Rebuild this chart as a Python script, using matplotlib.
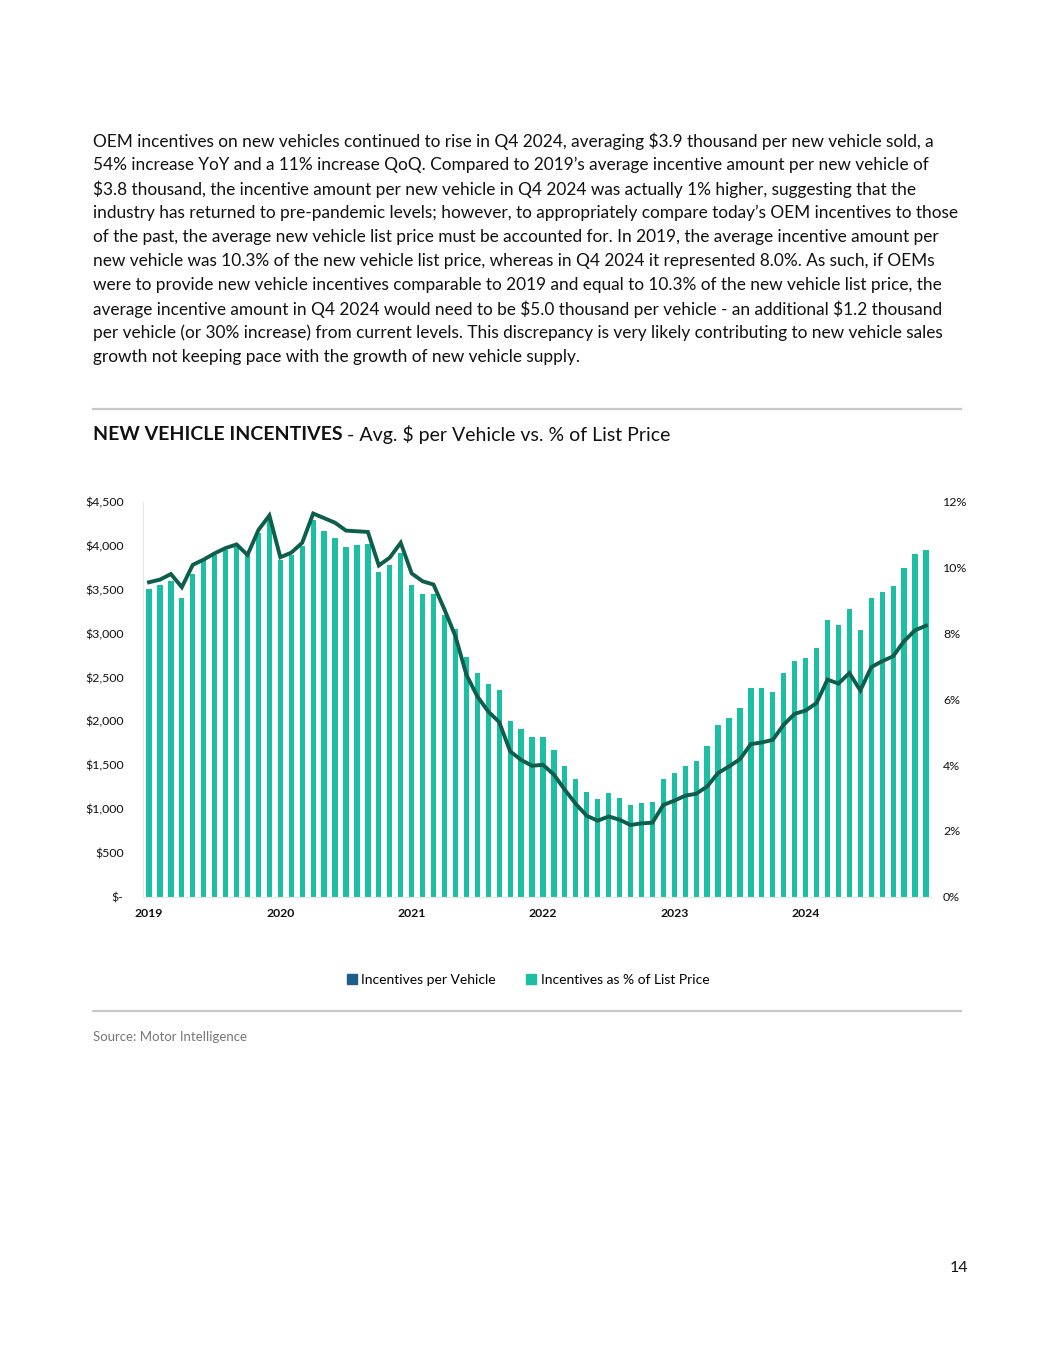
import numpy as np
import matplotlib
matplotlib.use("Agg")
import matplotlib.pyplot as plt
from matplotlib.ticker import FuncFormatter, FixedLocator
from matplotlib.lines import Line2D

plt.rcParams["font.family"] = ["Lato", "DejaVu Sans"]
plt.rcParams["text.parse_math"] = False

# ─── data (monthly, Jan 2019 .. Dec 2024) ─────────────────────────────────────
years = ["2019", "2020", "2021", "2022", "2023", "2024"]

# average incentive $ per new vehicle (bars, left axis)
incentive_usd = [
    3510, 3553, 3599, 3404, 3679, 3835, 3892, 3953, 3991, 3934, 4151, 4290,
    3838, 3899, 3998, 4295, 4170, 4086, 3991, 4014, 4025, 3701, 3777, 3922,
    3557, 3454, 3454, 3206, 3054, 2734, 2551, 2426, 2357, 2007, 1912, 1820,
    1820, 1672, 1485, 1337, 1192, 1116, 1180, 1120, 1043, 1066, 1081, 1340,
    1405, 1489, 1550, 1717, 1954, 2041, 2155, 2376, 2376, 2330, 2555, 2688,
    2719, 2833, 3157, 3092, 3275, 3046, 3404, 3473, 3541, 3751, 3903, 3953,
]

# incentives as % of list price (line, right axis)
incentive_pct = [
    9.56, 9.64, 9.81, 9.41, 10.09, 10.25, 10.44, 10.60, 10.71, 10.39, 11.15, 11.59,
    10.32, 10.46, 10.76, 11.65, 11.51, 11.37, 11.13, 11.11, 11.09, 10.07, 10.31, 10.76,
    9.83, 9.59, 9.49, 8.73, 7.92, 6.75, 6.09, 5.63, 5.31, 4.42, 4.16, 3.98,
    4.01, 3.71, 3.25, 2.82, 2.46, 2.31, 2.44, 2.34, 2.18, 2.23, 2.25, 2.79,
    2.92, 3.07, 3.13, 3.35, 3.76, 3.96, 4.18, 4.64, 4.69, 4.77, 5.23, 5.56,
    5.66, 5.89, 6.60, 6.48, 6.80, 6.27, 6.98, 7.16, 7.31, 7.77, 8.10, 8.24,
]

usd_ticks = [0, 500, 1000, 1500, 2000, 2500, 3000, 3500, 4000, 4500]
pct_ticks = [0, 2, 4, 6, 8, 10, 12]

paragraph = [
    "OEM incentives on new vehicles continued to rise in Q4 2024, averaging $3.9 thousand per new vehicle sold, a",
    "54% increase YoY and a 11% increase QoQ. Compared to 2019\u2019s average incentive amount per new vehicle of",
    "$3.8 thousand, the incentive amount per new vehicle in Q4 2024 was actually 1% higher, suggesting that the",
    "industry has returned to pre-pandemic levels; however, to appropriately compare today\u2019s OEM incentives to those",
    "of the past, the average new vehicle list price must be accounted for. In 2019, the average incentive amount per",
    "new vehicle was 10.3% of the new vehicle list price, whereas in Q4 2024 it represented 8.0%. As such, if OEMs",
    "were to provide new vehicle incentives comparable to 2019 and equal to 10.3% of the new vehicle list price, the",
    "average incentive amount in Q4 2024 would need to be $5.0 thousand per vehicle - an additional $1.2 thousand",
    "per vehicle (or 30% increase) from current levels. This discrepancy is very likely contributing to new vehicle sales",
    "growth not keeping pace with the growth of new vehicle supply.",
]

# ─── colours ─────────────────────────────────────────────────────────────────
TEAL = "#1cbfa4"
DARK = "#0e5e4c"
BLUE = "#1d5f8a"
GRID = "#c9c9c9"

W, H = 1055, 1365
fig = plt.figure(figsize=(W / 100, H / 100), dpi=100)

def fx(px):
    return px / W

def fy(py):
    return 1 - py / H

# paragraph
for i, line in enumerate(paragraph):
    fig.text(fx(93), fy(141 + 24 * i), line, fontsize=12.45, color="#111111",
             va="center", ha="left")

# separators
for yy in (409, 1011):
    fig.add_artist(Line2D([fx(93), fx(961)], [fy(yy), fy(yy)], color=GRID, lw=1.6))

# title
t1 = fig.text(fx(93), fy(435), "NEW VEHICLE INCENTIVES", fontsize=14,
              fontweight="bold", color="#111111", va="center", ha="left")
fig.canvas.draw()
bb = t1.get_window_extent()
fig.text(bb.x1 / W + fx(4), fy(435), "- Avg. $ per Vehicle vs. % of List Price",
         fontsize=14, color="#111111", va="center", ha="left")

# ─── chart ───────────────────────────────────────────────────────────────────
ax = fig.add_axes([fx(143), fy(896.7), fx(932 - 143), (896.7 - 502) / H])
x = np.arange(len(incentive_usd))
ax.bar(x, incentive_usd, width=0.48, color=TEAL, zorder=2)
ax.set_xlim(-0.55, len(x) - 0.45)
ax.set_ylim(0, 4500)
ax.yaxis.set_major_locator(FixedLocator(usd_ticks))
ax.yaxis.set_major_formatter(FuncFormatter(lambda v, p: "$-" if v == 0 else f"${v:,.0f}"))
ax.set_xticks(np.arange(len(years)) * 12)
ax.set_xticklabels(years, fontweight="bold", fontsize=8.8)
ax.tick_params(axis="both", length=0, colors="#111111")
ax.tick_params(axis="y", labelsize=8.9, pad=14)
ax.tick_params(axis="x", pad=8)
for s in ("top", "right"):
    ax.spines[s].set_visible(False)
ax.spines["left"].set_color("#e6e6e6")
ax.spines["bottom"].set_color("#e6e6e6")

ax2 = ax.twinx()
ax2.plot(x, incentive_pct, color=DARK, lw=2.8, solid_joinstyle="miter", zorder=3)
ax2.set_ylim(0, 12)
ax2.yaxis.set_major_locator(FixedLocator(pct_ticks))
ax2.yaxis.set_major_formatter(FuncFormatter(lambda v, p: f"{v:.0f}%"))
ax2.tick_params(axis="y", length=0, labelsize=8.9, pad=8, colors="#111111")
for s in ("top", "right", "left", "bottom"):
    ax2.spines[s].set_visible(False)

# legend
handles = [
    Line2D([], [], marker="s", ls="", color=BLUE, markersize=6.5),
    Line2D([], [], marker="s", ls="", color=TEAL, markersize=6.5),
]
fig.legend(handles, ["Incentives per Vehicle", "Incentives as % of List Price"],
           loc="center", bbox_to_anchor=(fx(527), fy(980)), ncol=2, frameon=False,
           fontsize=10, handletextpad=0.2, columnspacing=2.0, handlelength=1.0)

# source + page number
fig.text(fx(93), fy(1037), "Source: Motor Intelligence", fontsize=9.5,
         color="#777777", va="center", ha="left")
fig.text(fx(968), fy(1268), "14", fontsize=11.5, color="#111111",
         va="center", ha="right")

fig.savefig("out.png", dpi=100)
